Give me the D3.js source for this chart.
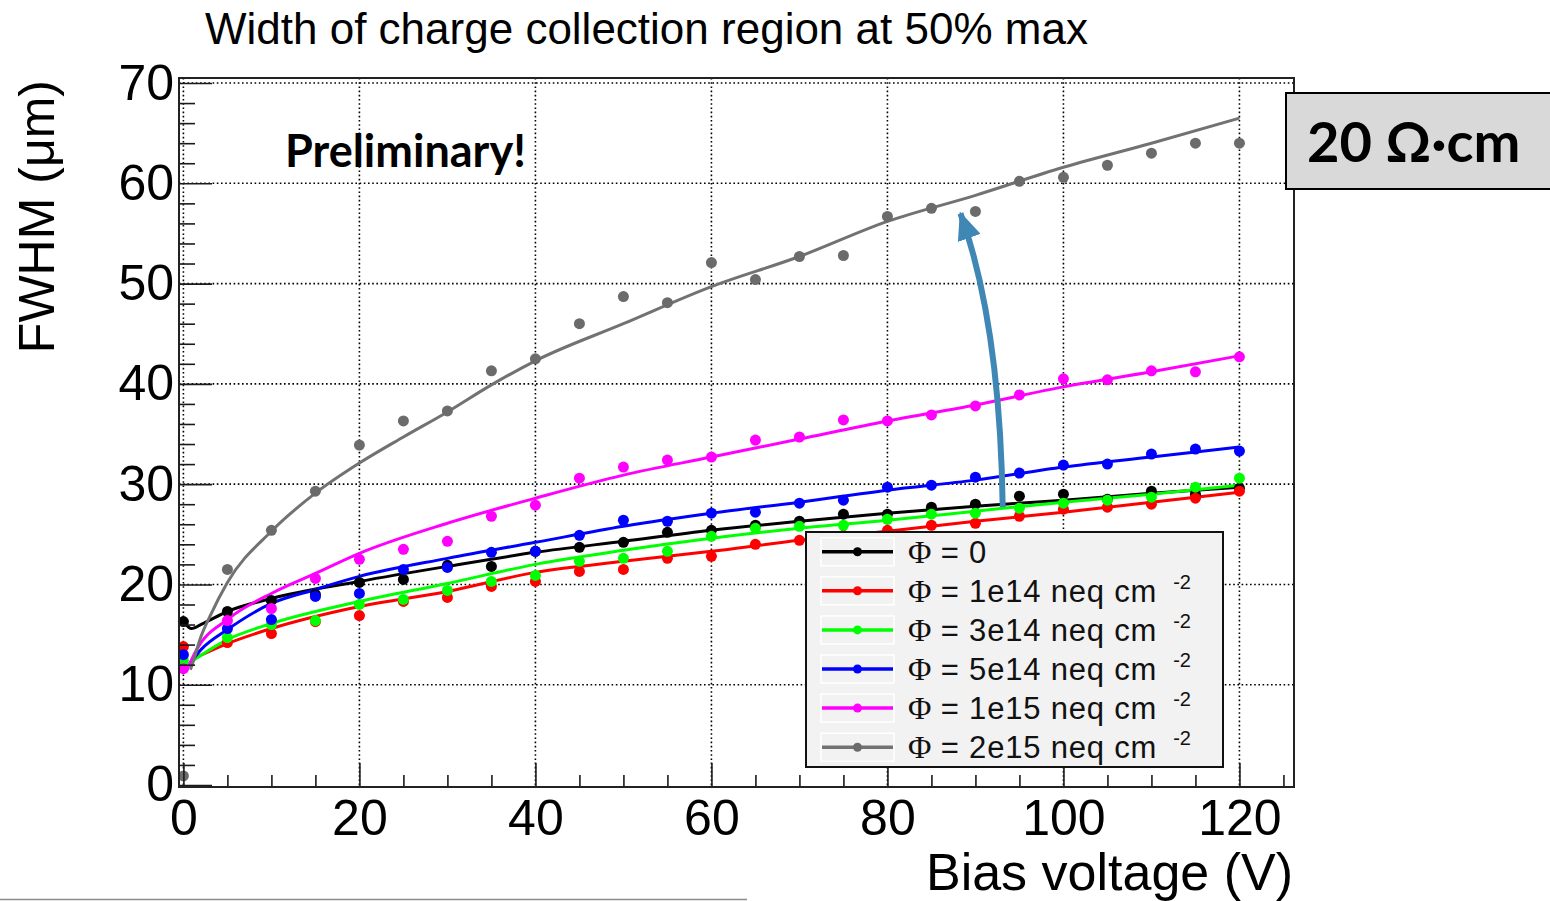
<!DOCTYPE html>
<html>
<head>
<meta charset="utf-8">
<script src="https://cdn.jsdelivr.net/npm/d3@7"></script>
<style>
  body { margin: 0; background: #fff; }
  svg { display: block; }
</style>
</head>
<body>
<svg id="chart" width="1550" height="901"></svg>
<script>
// ---- measured FWHM vs bias voltage ----
const voltages = [0, 5, 10, 15, 20, 25, 30, 35, 40, 45, 50, 55, 60, 65, 70, 75, 80, 85, 90, 95, 100, 105, 110, 115, 120];

const fwhmPhi0    = [16.3, 17.3, 18.4, 19.0, 20.2, 20.5, 21.9, 21.8, 23.3, 23.7, 24.2, 25.2, 25.4, 25.9, 26.3, 27.0, 27.0, 27.7, 28.0, 28.8, 29.0, 28.5, 29.3, 29.0, 29.6];
const fwhmPhi1e14 = [13.8, 14.2, 15.1, 16.3, 16.9, 18.3, 18.7, 19.8, 20.3, 21.3, 21.5, 22.6, 22.8, 24.0, 24.4, 24.9, 25.4, 25.9, 26.1, 26.8, 27.5, 27.7, 28.0, 28.6, 29.3];
const fwhmPhi3e14 = [12.4, 14.7, 16.0, 16.4, 18.0, 18.5, 19.4, 20.3, 20.9, 22.3, 22.6, 23.3, 24.8, 25.6, 25.8, 25.9, 26.5, 27.0, 27.1, 27.6, 28.1, 28.4, 28.7, 29.7, 30.6];
const fwhmPhi5e14 = [13.0, 15.6, 16.5, 18.8, 19.1, 21.5, 21.7, 23.2, 23.3, 24.9, 26.4, 26.3, 27.1, 27.2, 28.1, 28.4, 29.7, 29.9, 30.7, 31.1, 31.9, 32.0, 33.0, 33.5, 33.3];
const fwhmPhi1e15 = [11.6, 16.4, 17.6, 20.6, 22.5, 23.5, 24.3, 26.8, 27.9, 30.6, 31.7, 32.4, 32.7, 34.4, 34.7, 36.4, 36.3, 36.9, 37.8, 38.9, 40.5, 40.4, 41.3, 41.2, 42.7];
const fwhmPhi2e15 = [0.9, 21.5, 25.4, 29.3, 33.9, 36.3, 37.3, 41.3, 42.5, 46.0, 48.7, 48.1, 52.1, 50.4, 52.7, 52.8, 56.7, 57.5, 57.2, 60.2, 60.6, 61.8, 63.0, 64.0, 64.0];

// ---- fitted curves, [voltage, FWHM] ----
const fitPhi0    = [[0.2,16.1],[0.9,15.6],[2.2,16.1],[5,17.3],[10,18.6],[20,20.3],[30,21.8],[40,23.2],[50,24.3],[60,25.4],[70,26.3],[80,27.1],[90,27.8],[100,28.4],[110,29.1],[120,29.7]];
const fitPhi1e14 = [[0.9,12.5],[5,14.1],[10,15.6],[20,17.8],[30,19.3],[40,21.2],[50,22.3],[60,23.3],[70,24.4],[80,25.3],[90,26.3],[100,27.2],[110,28.2],[120,29.2]];
const fitPhi3e14 = [[0.9,12.3],[5,14.5],[10,16.1],[20,18.3],[30,20.1],[40,22.0],[50,23.4],[60,24.6],[70,25.6],[80,26.4],[90,27.3],[100,28.2],[110,29.0],[120,29.9]];
const fitPhi5e14 = [[0.7,12.1],[2,13.5],[5,15.5],[10,18.1],[15,19.5],[20,20.8],[30,22.6],[40,24.2],[50,25.8],[60,27.1],[70,28.2],[80,29.4],[90,30.4],[100,31.7],[110,32.7],[120,33.7]];
const fitPhi1e15 = [[0.4,11.5],[1.5,13.5],[5,16.5],[10,19.1],[15,21.1],[20,23.1],[30,26.1],[40,28.6],[50,30.9],[60,32.7],[70,34.5],[80,36.3],[90,37.9],[100,39.7],[110,41.2],[120,42.8]];
const fitPhi2e15 = [[0.8,11.5],[1,12.0],[2,14.8],[3,16.8],[5,20.2],[10,25.3],[15,29.1],[20,32.1],[25,34.7],[30,37.2],[35,39.9],[40,42.3],[50,46.0],[60,49.7],[70,52.7],[80,56.2],[90,58.8],[100,61.6],[110,64.0],[120,66.5]];

const seriesFluence = ["0", "1e14 neq cm", "3e14 neq cm", "5e14 neq cm", "1e15 neq cm", "2e15 neq cm"];
const seriesUnitExp = [null, "-2", "-2", "-2", "-2", "-2"];
const seriesColors = ["#000000", "#ff0000", "#00ff00", "#0000ff", "#ff00ff", "#6b6b6b"];

const xMajorTicks = [0, 20, 40, 60, 80, 100, 120];
const xMinorTicks = d3.range(0, 126, 5).filter(v => v % 20 !== 0);
const yMajorTicks = [0, 10, 20, 30, 40, 50, 60, 70];
const yMinorTicks = d3.range(0, 71, 2).filter(v => v % 10 !== 0);

// annotation arrow in data space: start, control, tip
const arrowPath = [[93.1, 27.7], [92.8, 46.0], [88.3, 57.0]];

const fits = [fitPhi0, fitPhi1e14, fitPhi3e14, fitPhi5e14, fitPhi1e15, fitPhi2e15];
const series = [fwhmPhi0, fwhmPhi1e14, fwhmPhi3e14, fwhmPhi5e14, fwhmPhi1e15, fwhmPhi2e15].map((vals, i) => ({
  fluence: seriesFluence[i],
  exp: seriesUnitExp[i],
  color: seriesColors[i],
  lineColor: i === 5 ? "#727272" : seriesColors[i],
  points: voltages.map((v, j) => [v, vals[j]]),
  fit: fits[i]
}));

// ---- layout ----
const frame = { left: 179, right: 1294, top: 78, bottom: 787 };
const x = d3.scaleLinear().domain([-0.5, 126.2]).range([frame.left, frame.right]);
const y = d3.scaleLinear().domain([-0.2, 70.5]).range([frame.bottom, frame.top]);

const svg = d3.select("#chart");
const axisFont = "'Liberation Sans', Arial, Helvetica, sans-serif";
const boldFont = "Lato, 'Open Sans', sans-serif";

// dotted grid
const grid = svg.append("g").attr("stroke", "#000").attr("stroke-width", 1.6)
  .attr("stroke-dasharray", "1.6,2.6");
grid.selectAll("line.gx").data(xMajorTicks).join("line")
  .attr("x1", d => x(d)).attr("x2", d => x(d))
  .attr("y1", frame.top).attr("y2", frame.bottom);
grid.selectAll("line.gy").data(yMajorTicks.filter(d => d > 0)).join("line")
  .attr("x1", frame.left).attr("x2", frame.right)
  .attr("y1", d => y(d)).attr("y2", d => y(d));

// fit curves
const line = d3.line().x(d => x(d[0])).y(d => y(d[1])).curve(d3.curveMonotoneX);
svg.append("g").selectAll("path").data(series).join("path")
  .attr("d", d => line(d.fit))
  .attr("fill", "none")
  .attr("stroke", d => d.lineColor)
  .attr("stroke-width", 3);

// data points
svg.append("g").selectAll("g").data(series).join("g")
  .attr("fill", d => d.color)
  .selectAll("circle").data(d => d.points).join("circle")
  .attr("cx", d => x(d[0])).attr("cy", d => y(d[1])).attr("r", 5.5);

// axes
const xAxisG = svg.append("g").attr("transform", `translate(0,${frame.bottom})`);
xAxisG.append("g").call(d3.axisBottom(x).tickValues(xMinorTicks).tickSize(-12).tickFormat(""));
xAxisG.append("g").call(d3.axisBottom(x).tickValues(xMajorTicks).tickSize(-24).tickPadding(12).tickFormat(d3.format("d")));

const yAxisG = svg.append("g").attr("transform", `translate(${frame.left},0)`);
yAxisG.append("g").call(d3.axisLeft(y).tickValues(yMinorTicks).tickSize(-16).tickFormat(""));
yAxisG.append("g").call(d3.axisLeft(y).tickValues(yMajorTicks).tickSize(-33).tickPadding(5).tickFormat(d3.format("d")));

svg.selectAll(".domain").remove();
svg.selectAll(".tick line").attr("stroke", "#1a1a1a").attr("stroke-width", 1.6);
svg.selectAll(".tick text").attr("font-family", axisFont).attr("font-size", 50).attr("fill", "#000");

// frame
svg.append("rect")
  .attr("x", frame.left).attr("y", frame.top)
  .attr("width", frame.right - frame.left).attr("height", frame.bottom - frame.top)
  .attr("fill", "none").attr("stroke", "#222").attr("stroke-width", 2);

// titles
svg.append("text").attr("x", 205).attr("y", 44)
  .attr("font-family", axisFont).attr("font-size", 44)
  .text("Width of charge collection region at 50% max");

svg.append("text").attr("x", 1293).attr("y", 890).attr("text-anchor", "end")
  .attr("font-family", axisFont).attr("font-size", 52)
  .text("Bias voltage (V)");

svg.append("text").attr("transform", "translate(54,80) rotate(-90)").attr("text-anchor", "end")
  .attr("font-family", axisFont).attr("font-size", 50)
  .text("FWHM (μm)");

// legend
const leg = svg.append("g").attr("transform", "translate(806,532)");
leg.append("rect").attr("width", 417).attr("height", 235)
  .attr("fill", "#f2f2f2").attr("stroke", "#111").attr("stroke-width", 2);
const rows = leg.selectAll("g.row").data(series).join("g")
  .attr("transform", (d, i) => `translate(0,${19.7 + i * 39.1})`);
rows.append("rect").attr("x", 15).attr("y", -14).attr("width", 73).attr("height", 28)
  .attr("fill", "none").attr("stroke", "#fff").attr("stroke-width", 1.5);
rows.append("line").attr("x1", 16).attr("x2", 87)
  .attr("stroke", d => d.lineColor).attr("stroke-width", 3.5);
rows.append("circle").attr("cx", 51.5).attr("r", 4.5).attr("fill", d => d.color);
const lt = rows.append("text").attr("x", 102).attr("y", 11)
  .attr("font-family", axisFont).attr("font-size", 31).attr("fill", "#111");
lt.append("tspan").attr("font-family", "'Liberation Serif', 'DejaVu Serif', serif").attr("font-size", 32).text("Φ");
lt.append("tspan").attr("letter-spacing", 0.8).text(d => " = " + d.fluence);
lt.filter(d => d.exp).append("tspan").attr("dx", 16).attr("dy", -13).attr("font-size", 20)
  .text(d => d.exp);

// annotation arrow
const defs = svg.append("defs");
defs.append("marker").attr("id", "arrowHead")
  .attr("viewBox", "0 0 28 24").attr("refX", 26).attr("refY", 12)
  .attr("markerWidth", 28).attr("markerHeight", 24)
  .attr("markerUnits", "userSpaceOnUse").attr("orient", "auto")
  .append("path").attr("d", "M0,0 L28,12 L0,24 Z").attr("fill", "#3f87b5");
const ap = d3.path();
ap.moveTo(x(arrowPath[0][0]), y(arrowPath[0][1]));
ap.quadraticCurveTo(x(arrowPath[1][0]), y(arrowPath[1][1]), x(arrowPath[2][0]), y(arrowPath[2][1]));
svg.append("path").attr("d", ap.toString())
  .attr("fill", "none").attr("stroke", "#3f87b5").attr("stroke-width", 6)
  .attr("marker-end", "url(#arrowHead)");

// annotations
svg.append("text").attr("x", 285).attr("y", 167)
  .attr("font-family", boldFont).attr("font-weight", "bold").attr("font-size", 45)
  .text("Preliminary!");

svg.append("rect").attr("x", 1286).attr("y", 93).attr("width", 290).attr("height", 96)
  .attr("fill", "#d9d9d9").attr("stroke", "#000").attr("stroke-width", 2);
svg.append("text").attr("x", 1307).attr("y", 162)
  .attr("font-family", boldFont).attr("font-weight", "bold").attr("font-size", 56)
  .text("20 Ω·cm");

// slide rule at the bottom edge
svg.append("line").attr("x1", 0).attr("x2", 747).attr("y1", 899.5).attr("y2", 899.5)
  .attr("stroke", "#8c8c8c").attr("stroke-width", 1.5);
</script>
</body>
</html>
